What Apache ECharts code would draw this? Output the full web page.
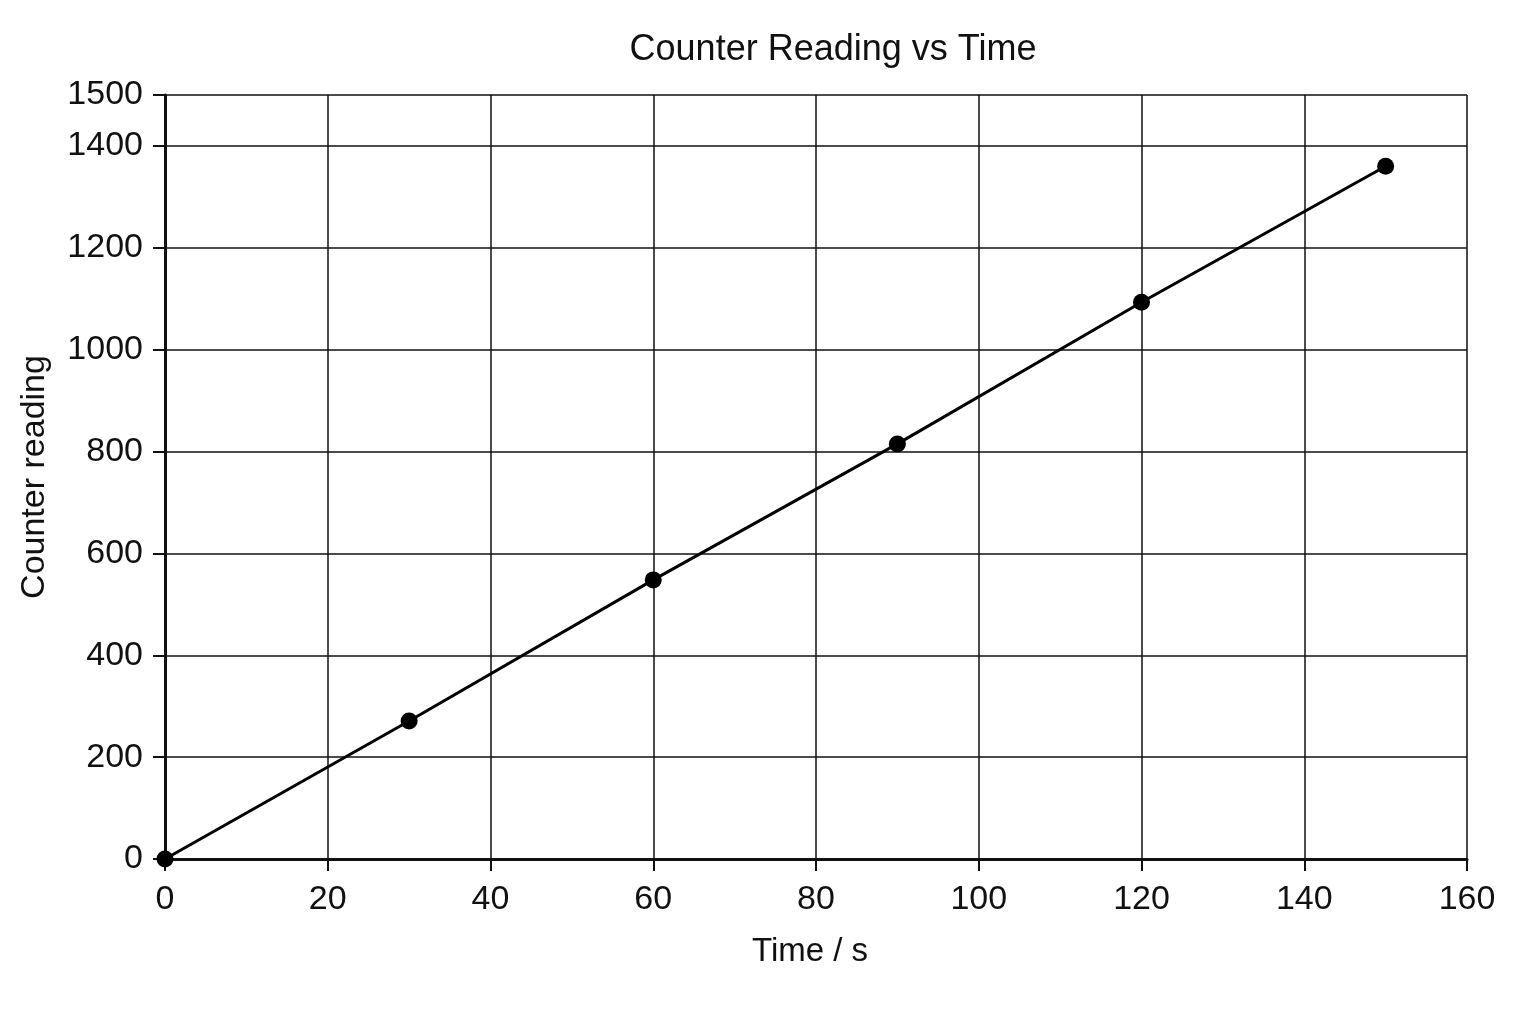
<!DOCTYPE html>
<html>
<head>
<meta charset="utf-8">
<script src="https://cdn.jsdelivr.net/npm/echarts@6/dist/echarts.min.js"></script>
<style>
html,body{margin:0;padding:0;background:#fff;}
#chart{width:1536px;height:1024px;}
</style>
</head>
<body>
<div id="chart"></div>
<script>
const timeValues = [0, 30, 60, 90, 120, 150];
const counterValues = [0, 271, 548, 815, 1093, 1360];
const chartTitle = "Counter Reading vs Time";
const xAxisName = "Time / s";
const yAxisName = "Counter reading";

const seriesData = timeValues.map((t, i) => [t, counterValues[i]]);
const font = "'Liberation Sans', Arial, sans-serif";

const chart = echarts.init(document.getElementById('chart'));
chart.setOption({
  backgroundColor: '#ffffff',
  animation: false,
  title: {
    text: chartTitle,
    left: 828,
    top: 27,
    textAlign: 'center',
    textStyle: {fontFamily: font, fontSize: 36, fontWeight: 'normal', color: '#111'}
  },
  grid: {left: 165, right: 69, top: 95, bottom: 165, containLabel: false},
  xAxis: {
    type: 'value',
    min: 0, max: 160, interval: 20,
    name: xAxisName,
    nameLocation: 'middle',
    nameGap: 76,
    nameTextStyle: {fontFamily: font, fontSize: 33, color: '#111', padding: [0, 12, 0, 0]},
    axisLine: {show: true, onZero: false, lineStyle: {color: '#111', width: 3}},
    axisTick: {show: true, inside: false, length: 12, lineStyle: {color: '#111', width: 2}},
    axisLabel: {fontFamily: font, fontSize: 34, color: '#111', margin: 24, formatter: v => String(v)},
    splitLine: {show: true, lineStyle: {color: '#111', width: 1.5}}
  },
  yAxis: {
    type: 'value',
    min: 0, max: 1500, interval: 200,
    name: yAxisName,
    nameLocation: 'middle',
    nameGap: 113,
    nameRotate: 90,
    nameTextStyle: {fontFamily: font, fontSize: 34, color: '#111'},
    axisLine: {show: true, lineStyle: {color: '#111', width: 3}},
    axisTick: {show: true, inside: false, length: 12, lineStyle: {color: '#111', width: 2}},
    axisLabel: {fontFamily: font, fontSize: 34, color: '#111', margin: 22, formatter: v => String(v)},
    splitLine: {show: true, lineStyle: {color: '#111', width: 1.5}}
  },
  series: [{
    type: 'line',
    data: seriesData,
    symbol: 'circle',
    symbolSize: 17,
    itemStyle: {color: '#000'},
    lineStyle: {color: '#000', width: 3},
    z: 5
  }]
});
</script>
</body>
</html>
